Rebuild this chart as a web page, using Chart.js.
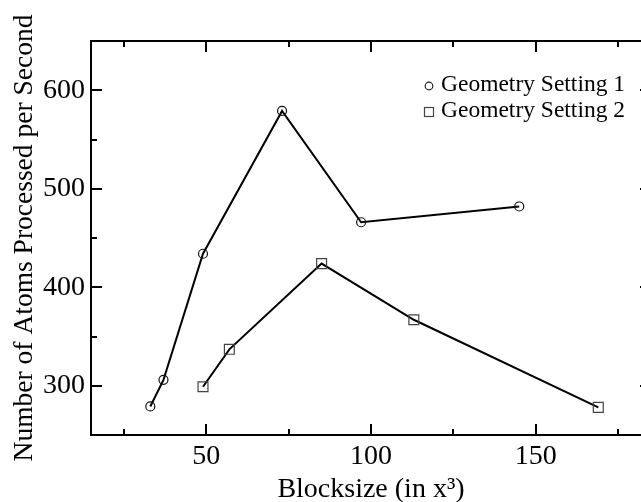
<!DOCTYPE html>
<html>
<head>
<meta charset="utf-8">
<script src="https://cdn.jsdelivr.net/npm/chart.js@4.4.0/dist/chart.umd.min.js"></script>
<style>
html, body { margin: 0; padding: 0; background: #fff; overflow: hidden; }
</style>
</head>
<body>
<canvas id="chartKu" width="660" height="502"></canvas>
<script>
const setting1X = [33, 37, 49, 73, 97, 145]
const setting1Y = [279, 306, 434, 579, 466, 482]
const setting2X = [49, 57, 85, 113, 169]
const setting2Y = [299, 337, 424, 367, 278]
const seriesNames = ['Geometry Setting 1', 'Geometry Setting 2']
const xTicks = [25, 50, 75, 100, 125, 150, 175]
const yTicks = [300, 350, 400, 450, 500, 550, 600]
const xLabel = 'Blocksize (in x³)'
const yLabel = 'Number of Atoms Processed per Second'

const serif = '"Liberation Serif", "Times New Roman", serif'
Chart.defaults.font.family = serif
Chart.defaults.color = '#000'

const toPoints = (xs, ys) => xs.map((x, i) => ({ x: x, y: ys[i] }))

// inward ticks on all four sides + box + legend
const frameTicks = {
  id: 'frameTicks',
  afterDraw(chart) {
    const c = chart.ctx
    const a = chart.chartArea
    const xs = chart.scales.x
    const ys = chart.scales.y
    c.save()
    c.strokeStyle = '#000'
    c.lineWidth = 2
    c.strokeRect(a.left, a.top, a.right - a.left, a.bottom - a.top)
    xTicks.forEach(v => {
      const px = Math.round(xs.getPixelForValue(v))
      const len = v % 50 === 0 ? 11 : 6
      c.beginPath()
      c.moveTo(px, a.bottom); c.lineTo(px, a.bottom - len)
      c.moveTo(px, a.top); c.lineTo(px, a.top + len)
      c.stroke()
    })
    yTicks.forEach(v => {
      const py = Math.round(ys.getPixelForValue(v))
      const len = v % 100 === 0 ? 11 : 6
      c.beginPath()
      c.moveTo(a.left, py); c.lineTo(a.left + len, py)
      c.moveTo(a.right, py); c.lineTo(a.right - len, py)
      c.stroke()
    })

    // legend
    c.lineWidth = 1.2
    c.strokeStyle = '#222'
    c.beginPath()
    c.arc(429, 86, 3.8, 0, Math.PI * 2)
    c.stroke()
    c.strokeStyle = '#444'
    c.strokeRect(424.5, 107.5, 9, 9)
    c.fillStyle = '#000'
    c.font = '23.5px ' + serif
    c.textBaseline = 'middle'
    c.fillText(seriesNames[0], 441, 85)
    c.fillText(seriesNames[1], 441, 111)
    c.restore()
  }
}

let ctx = document.getElementById('chartKu').getContext('2d')
let chart = new Chart(ctx, {
  type: 'scatter',
  data: {
    datasets: [{
      label: seriesNames[0],
      data: toPoints(setting1X, setting1Y),
      showLine: true,
      borderColor: '#000',
      borderWidth: 2,
      pointStyle: 'circle',
      pointRadius: 4.5,
      pointBorderWidth: 1.2,
      pointBorderColor: '#111',
      pointBackgroundColor: 'transparent'
    }, {
      label: seriesNames[1],
      data: toPoints(setting2X, setting2Y),
      showLine: true,
      borderColor: '#000',
      borderWidth: 2,
      pointStyle: 'rect',
      pointRadius: 7,
      pointBorderWidth: 1.2,
      pointBorderColor: '#444',
      pointBackgroundColor: 'transparent'
    }]
  },
  options: {
    responsive: false,
    animation: false,
    layout: { padding: { top: 41, right: 9, left: 0, bottom: 0 } },
    plugins: { legend: { display: false }, tooltip: { enabled: false } },
    scales: {
      x: {
        type: 'linear',
        min: 15,
        max: 185,
        afterBuildTicks: s => { s.ticks = xTicks.map(v => ({ value: v })) },
        afterFit: s => { s.height = 67 },
        grid: { display: false, drawTicks: false },
        border: { display: false },
        ticks: {
          padding: 5,
          font: { size: 28 },
          autoSkip: false,
          maxRotation: 0,
          callback: v => (v % 50 === 0 ? v : '')
        },
        title: {
          display: true,
          text: xLabel,
          font: { size: 28, lineHeight: 1 },
          padding: { top: 0, bottom: -2 }
        }
      },
      y: {
        min: 250,
        max: 650,
        afterBuildTicks: s => { s.ticks = yTicks.map(v => ({ value: v })) },
        afterFit: s => { s.width = 91 },
        grid: { display: false, drawTicks: false },
        border: { display: false },
        ticks: {
          padding: 6,
          font: { size: 28 },
          autoSkip: false,
          callback: v => (v % 100 === 0 ? v : '')
        },
        title: {
          display: true,
          text: yLabel,
          font: { size: 27.5, lineHeight: 1 },
          padding: { top: 11, bottom: 0 }
        }
      }
    }
  },
  plugins: [frameTicks]
})
</script>
</body>
</html>
